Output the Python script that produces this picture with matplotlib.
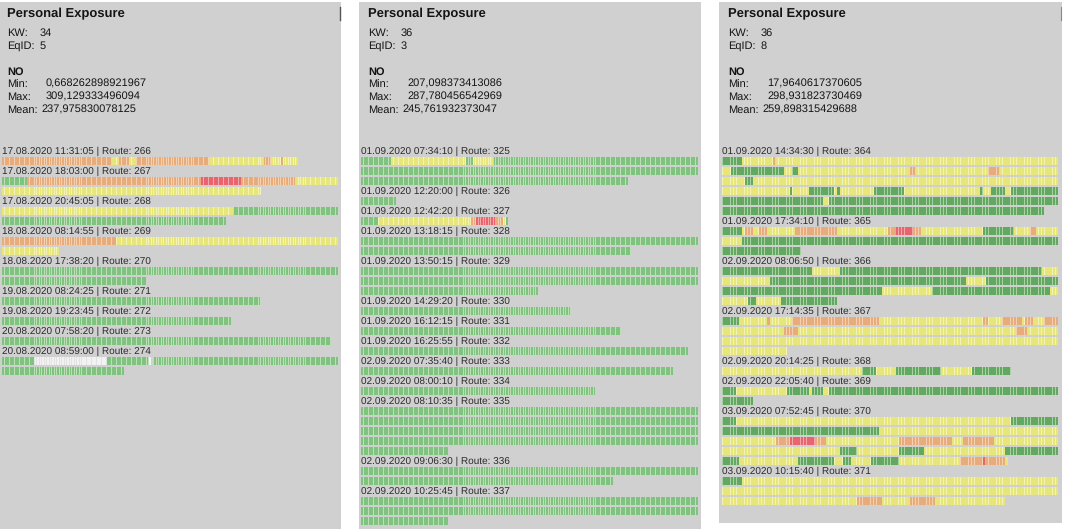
import matplotlib
matplotlib.use("Agg")
import matplotlib.pyplot as plt
from matplotlib.lines import Line2D

plt.rcParams['font.family'] = ['Liberation Sans', 'DejaVu Sans']
plt.rcParams['text.hinting'] = 'no_hinting'
plt.rcParams['text.hinting_factor'] = 1

W, H = 1065, 529

# ---------------- data ----------------
P1_INFO = {"KW": "34", "EqID": "5", "Min": "0,668262898921967",
           "Max": "309,129333496094", "Mean": "237,975830078125"}
P2_INFO = {"KW": "36", "EqID": "3", "Min": "207,098373413086",
           "Max": "287,780456542969", "Mean": "245,761932373047"}
P3_INFO = {"KW": "36", "EqID": "8", "Min": "17,9640617370605",
           "Max": "298,931823730469", "Mean": "259,898315429688"}

# each route: header, rows of run-length coded cells (G green, Y yellow,
# O orange, R red, W white, _ empty)
P1_ROUTES = [
    ("17.08.2020 11:31:05 | Route: 266", ["O44 Y3 O4 Y3 O29 Y22 O3 Y4 O1 Y6"]),
    ("17.08.2020 18:03:00 | Route: 267", ["G10 O70 R16 O22 Y17", "Y104"]),
    ("17.08.2020 20:45:05 | Route: 268", ["Y93 G42", "G90"]),
    ("18.08.2020 08:14:55 | Route: 269", ["O46 Y89", "Y23"]),
    ("18.08.2020 17:38:20 | Route: 270", ["G135", "G58"]),
    ("19.08.2020 08:24:25 | Route: 271", ["G104"]),
    ("19.08.2020 19:23:45 | Route: 272", ["G92"]),
    ("20.08.2020 07:58:20 | Route: 273", ["G132"]),
    ("20.08.2020 08:59:00 | Route: 274", ["G13 W29 G17 W1 _1 G74", "G49"]),
]

P2_ROUTES = [
    ("01.09.2020 07:34:10 | Route: 325", ["G12 Y30 G3 Y8 G82", "G135", "G107"]),
    ("01.09.2020 12:20:00 | Route: 326", ["G14"]),
    ("01.09.2020 12:42:20 | Route: 327", ["G7 Y37 O2 R8 O3 Y1 G1"]),
    ("01.09.2020 13:18:15 | Route: 328", ["G135", "G108"]),
    ("01.09.2020 13:50:15 | Route: 329", ["G135", "G135", "G71"]),
    ("01.09.2020 14:29:20 | Route: 330", ["G84"]),
    ("01.09.2020 16:12:15 | Route: 331", ["G104"]),
    ("01.09.2020 16:25:55 | Route: 332", ["G131"]),
    ("02.09.2020 07:35:40 | Route: 333", ["G125"]),
    ("02.09.2020 08:00:10 | Route: 334", ["G94"]),
    ("02.09.2020 08:10:35 | Route: 335", ["G135", "G135", "G135", "G135", "G35"]),
    ("02.09.2020 09:06:30 | Route: 336", ["G135", "G101"]),
    ("02.09.2020 10:25:45 | Route: 337", ["G135", "G135", "G35"]),
]

P3_ROUTES = [
    ("01.09.2020 14:34:30 | Route: 364", [
        "G7 Y11 O1 Y101",
        "Y3 G19 Y3 G2 Y40 O2 Y26 O4 Y21",
        "Y8 G3 Y109",
        "Y24 G1 Y6 G9 Y1 G1 Y12 G11 Y27 G1 Y3 G5 Y2 G17",
        "G36 Y2 G82",
        "G115"]),
    ("01.09.2020 17:34:10 | Route: 365", [
        "G7 Y1 O3 Y2 O3 Y10 O15 Y18 O3 R6 O3 Y22 G11 Y6 O2 Y8",
        "Y7 G113",
        "G28"]),
    ("02.09.2020 08:06:50 | Route: 366", [
        "G32 Y10 G72 Y6",
        "Y17 G70 Y7 G26",
        "G57 Y18 G42 Y3",
        "Y9 G3 Y9 G20"]),
    ("02.09.2020 17:14:35 | Route: 367", [
        "G6 Y10 O1 Y8 O31 Y37 O2 Y5 O7 Y1 O3 Y4 O5",
        "Y22 O5 Y78 O4 Y11",
        "Y120",
        "Y23"]),
    ("02.09.2020 20:14:25 | Route: 368", ["Y50 G5 Y7 G16 Y11 G14"]),
    ("02.09.2020 22:05:40 | Route: 369", ["G5 Y18 G8 Y1 G4 Y2 G82", "G11"]),
    ("03.09.2020 07:52:45 | Route: 370", [
        "G5 Y98 G17",
        "G56 Y64",
        "Y19 O5 R9 O4 Y26 O19 Y4 O11 Y23",
        "Y42 G6 Y15 G9 Y29 G19",
        "G6 Y21 G13 Y3 G3 Y7 G10 Y22 O8 R1 O7 Y1"]),
    ("03.09.2020 10:15:40 | Route: 371", [
        "G7 Y113",
        "Y120",
        "Y48 O9 Y10 O9 Y25"]),
]

# ---------------- styles ----------------
BASE = {"Y": ("#e6e67a", "#f3f3b8"), "O": ("#e8ac7c", "#f2d0b0"),
        "R": ("#e8646e", "#f2a8a8"), "W": ("#f2f2f2", "#e2e2e2")}
GREEN_LIGHT = ("#80c280", "#bcdfb5")
GREEN_DARK = ("#62a862", "#a8d0a0")
PANEL_BG = "#d0d0d0"

# panel geometry in pixels: left, top, right, bottom, bar start x, row width, cells/row
PANELS = [
    (P1_INFO, P1_ROUTES, GREEN_LIGHT, (-2, 2, 341, 529, 2.0, 336.0, 135)),
    (P2_INFO, P2_ROUTES, GREEN_LIGHT, (359, 2, 701, 529, 361.0, 337.0, 135)),
    (P3_INFO, P3_ROUTES, GREEN_DARK, (719, 2, 1062, 523, 722.3, 336.0, 120)),
]
FIRST_LINE_Y = 151.0
PITCH = 10.0
BAR_H = 0.77

fig = plt.figure(figsize=(W / 100, H / 100), dpi=100)
fig.patch.set_facecolor("white")


def parse(row):
    out = []
    for tok in row.split():
        out.append((tok[0], int(tok[1:])))
    return out


for info, routes, green, geom in PANELS:
    left, top, right, bottom, bx, rw, ncell = geom
    cpx = rw / ncell
    ax = fig.add_axes([left / W, 1 - bottom / H, (right - left) / W, (bottom - top) / H])
    ax.set_facecolor(PANEL_BG)
    for s in ax.spines.values():
        s.set_visible(False)
    ax.set_xticks([])
    ax.set_yticks([])
    ax.set_xlim((left - bx) / cpx, (right - bx) / cpx)
    ax.set_ylim((bottom - FIRST_LINE_Y) / PITCH, (top - FIRST_LINE_Y) / PITCH)

    colors = dict(BASE)
    colors["G"] = green

    line = 0
    for header, rows in routes:
        ax.text(0, line, header, fontsize=7.1, color="#2a2a2a",
                va="center", ha="left")
        line += 1
        for row in rows:
            x = 0
            for code, n in parse(row):
                if code != "_":
                    cell, gap = colors[code]
                    ax.broken_barh([(x, n)], (line - BAR_H / 2, BAR_H),
                                   facecolors=gap, linewidth=0)
                    ax.broken_barh([(x + i + 0.14, 0.72) for i in range(n)],
                                   (line - BAR_H / 2, BAR_H),
                                   facecolors=cell, linewidth=0)
                x += n
            line += 1

    # header text block (figure pixel positions)
    tx = left + 9 if left > 0 else 7

    def ftext(px, py, s, **kw):
        fig.text(px / W, 1 - py / H, s, va="center", ha="left",
                 color="#141414", **kw)

    ftext(tx, 14, "Personal Exposure", fontsize=9.3, fontweight="bold")
    ftext(tx, 33, "KW:", fontsize=8.0)
    ftext(tx + 33, 33, info["KW"], fontsize=8.0)
    ftext(tx, 46, "EqID:", fontsize=8.0)
    ftext(tx + 33, 46, info["EqID"], fontsize=8.0)
    ftext(tx, 72, "NO", fontsize=8.0, fontweight="bold")
    ftext(tx, 84, "Min:", fontsize=8.0)
    ftext(tx + 39, 84, info["Min"], fontsize=7.9)
    ftext(tx, 97, "Max:", fontsize=8.0)
    ftext(tx + 39, 97, info["Max"], fontsize=7.9)
    ftext(tx, 110, "Mean:", fontsize=8.0)
    ftext(tx + 34, 110, info["Mean"], fontsize=7.9)

# small scroll markers at top right of panels 1 and 3
fig.add_artist(Line2D([340 / W, 340 / W], [1 - 7 / H, 1 - 20 / H],
                      color="#555555", linewidth=1.0))
fig.add_artist(Line2D([1061 / W, 1061 / W], [1 - 7 / H, 1 - 20 / H],
                      color="#888888", linewidth=0.8))

fig.savefig("out.png", dpi=100, facecolor="white")
